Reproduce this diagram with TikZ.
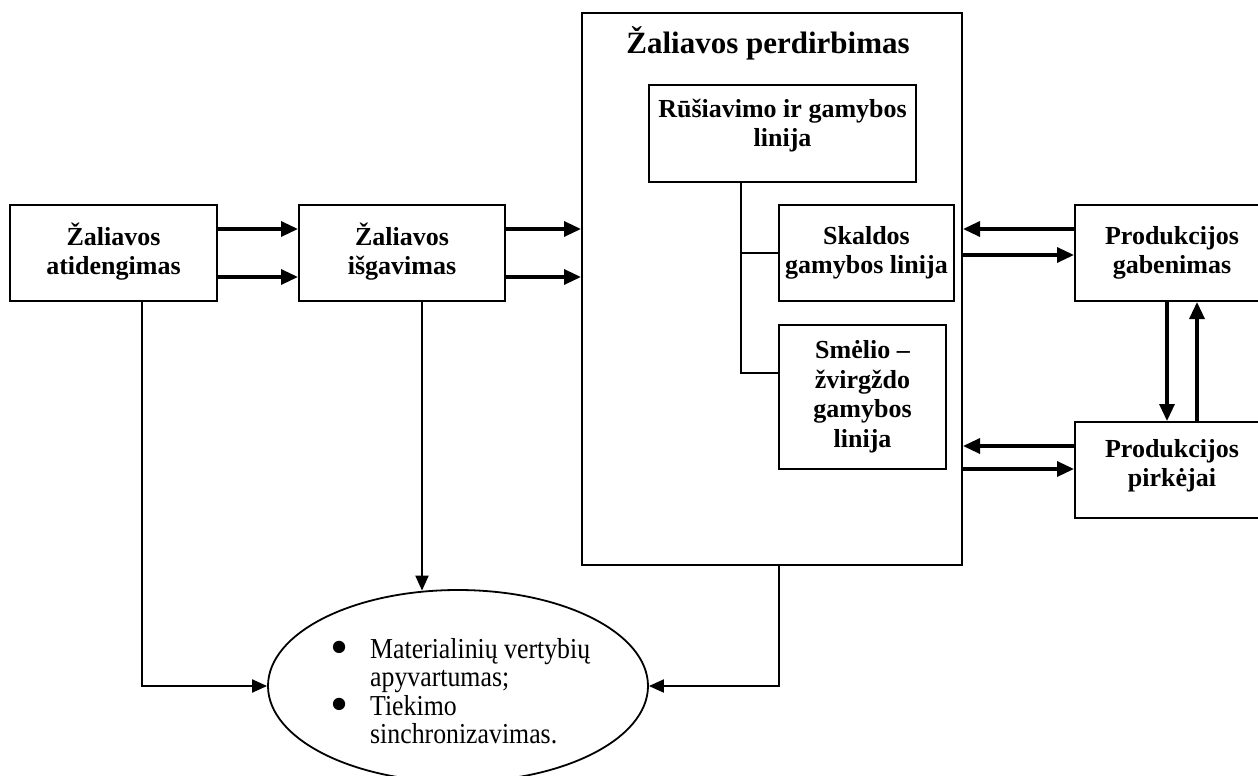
\documentclass[tikz,border=0pt]{standalone}
\usepackage{fontspec}
\usepackage{graphicx}
\setmainfont{Liberation Serif}
\usetikzlibrary{arrows.meta,shapes.geometric}
% centred lines with a fixed baseline spacing
\newcommand{\boxtext}[1]{\begin{tabular}[t]{@{}c@{}}#1\end{tabular}}
% slightly tall lines of the list in the ellipse
\newcommand{\tallline}[1]{\scalebox{1}[1.12]{#1}}
\newcommand{\dotmark}{\makebox[40pt][l]{\raisebox{-6pt}{\scalebox{2}{\textbullet}}}}
\begin{document}
\begin{tikzpicture}[x=1pt,y=-1pt,
  box/.style={draw, line width=2pt, inner sep=0pt,
    font=\bfseries\fontsize{26}{29.5}\selectfont},
  frame/.style={draw, line width=2pt, inner sep=0pt},
  flow/.style={line width=3.3pt, -{Triangle[length=17pt,width=15pt]}},
  link/.style={line width=2pt},
  feed/.style={line width=2pt, -{Triangle[length=15pt,width=13pt]}},
]
\clip (0,0) rectangle (1258,776);

% main stages
\node[box, minimum width=207pt, minimum height=96pt] (b1) at (113.5,253) {\boxtext{Žaliavos\\atidengimas}};
\node[box, minimum width=206pt, minimum height=96pt] (b2) at (402,253) {\boxtext{Žaliavos\\išgavimas}};

% processing block with its lines
\node[frame, minimum width=380pt, minimum height=552pt] (proc) at (772,289) {};
\node[font=\bfseries\fontsize{31}{34}\selectfont, anchor=base, inner sep=0pt] (title) at (768,53) {Žaliavos perdirbimas};
\node[box, minimum width=267pt, minimum height=97pt, text depth=53.5pt] (rus) at (782.5,133.5) {\boxtext{Rūšiavimo ir gamybos\\linija}};
\node[box, minimum width=175pt, minimum height=96pt] (skal) at (866.5,253) {\boxtext{Skaldos\\gamybos linija}};
\node[box, minimum width=167pt, minimum height=144pt] (smel) at (862.5,397) {\boxtext{Smėlio –\\žvirgždo\\gamybos\\linija}};

% products
\node[box, minimum width=194pt, minimum height=96pt] (gab) at (1172,253) {\boxtext{Produkcijos\\gabenimas}};
\node[box, minimum width=194pt, minimum height=96pt, text depth=46pt] (pirk) at (1172,470) {\boxtext{Produkcijos\\pirkėjai}};

% outcome
\node[draw, ellipse, line width=1.8pt, inner sep=0pt, minimum width=380pt, minimum height=192pt] (ell) at (458,686) {};
\node[anchor=base west, inner sep=0pt, font=\fontsize{25.8}{28.5}\selectfont] (items) at (330,658) {%
\vtop{\lineskiplimit=-100pt\lineskip=0pt
 \hbox{\dotmark\tallline{Materialinių vertybių}}
 \hbox{\hspace*{40pt}\tallline{apyvartumas;}}
 \hbox{\dotmark\tallline{Tiekimo}}
 \hbox{\hspace*{40pt}\tallline{sinchronizavimas.}}}};

% levels for the connectors
\coordinate (r1) at (0,229);
\coordinate (r2) at (0,277);
\coordinate (r3) at (0,255);
\coordinate (r4) at (0,446);
\coordinate (r5) at (0,469);
\coordinate (s1) at (0,253);
\coordinate (s2) at (0,373);
\coordinate (t) at (741,0);
\coordinate (c1) at (1167,0);
\coordinate (c2) at (1197,0);
\coordinate (d1) at (142,0);
\coordinate (d2) at (422,0);
\coordinate (d3) at (779,0);

\draw[flow] (b1.east |- r1) -- (b2.west |- r1);
\draw[flow] (b1.east |- r2) -- (b2.west |- r2);
\draw[flow] (b2.east |- r1) -- (proc.west |- r1);
\draw[flow] (b2.east |- r2) -- (proc.west |- r2);
\draw[flow] (gab.west |- r1) -- (proc.east |- r1);
\draw[flow] (proc.east |- r3) -- (gab.west |- r3);
\draw[flow] (pirk.west |- r4) -- (proc.east |- r4);
\draw[flow] (proc.east |- r5) -- (pirk.west |- r5);
\draw[flow] (gab.south -| c1) -- (pirk.north -| c1);
\draw[flow] (pirk.north -| c2) -- (gab.south -| c2);

% branching inside the processing block
\draw[link] (rus.south -| t) -- (t |- s2) -- (smel.west |- s2);
\draw[link] (t |- s1) -- (skal.west |- s1);

% links to the outcome
\draw[feed] (b1.south -| d1) |- (ell.west);
\draw[feed, shorten >=-1.5pt] (b2.south -| d2) -- (d2 |- ell.north);
\draw[feed] (proc.south -| d3) |- (ell.east);
\end{tikzpicture}
\end{document}
